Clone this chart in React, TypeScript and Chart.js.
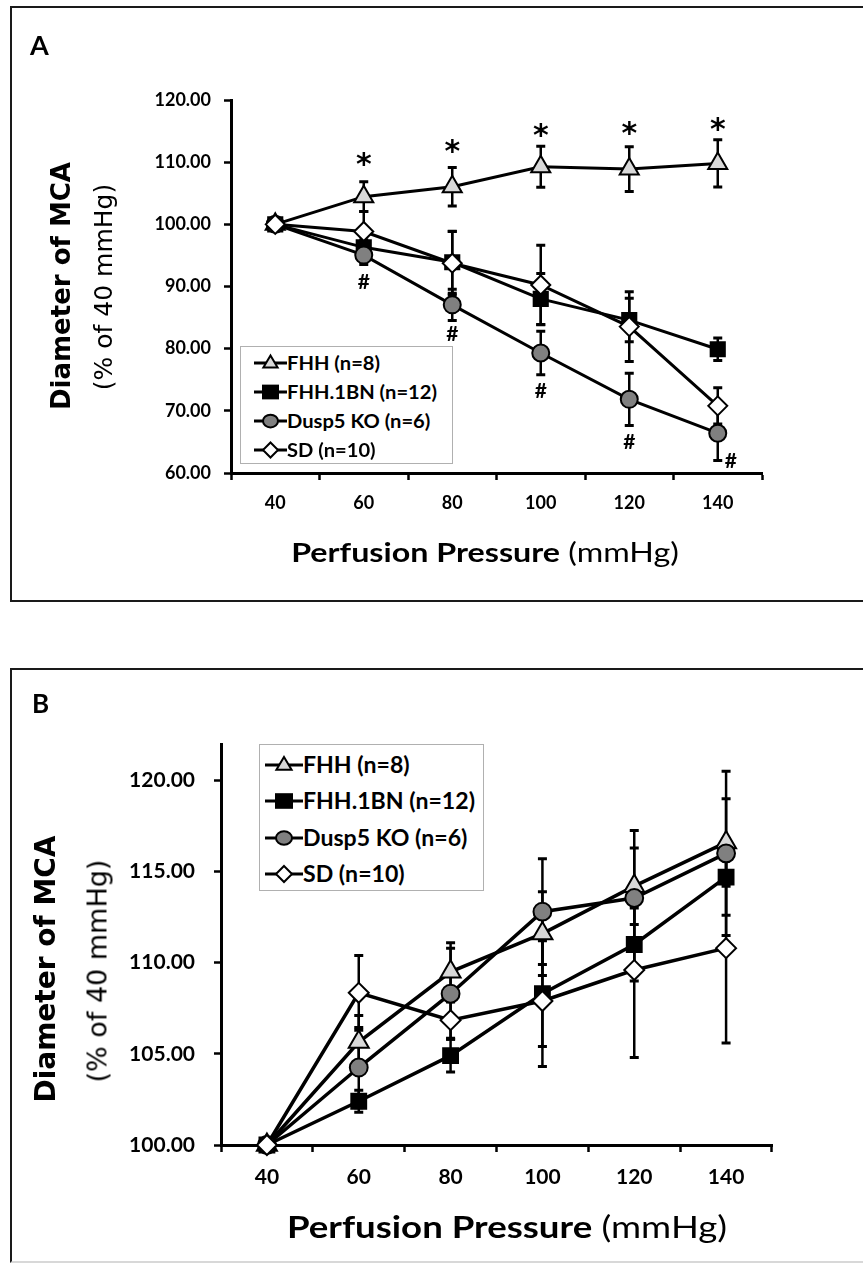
import React, { useEffect, useRef } from 'react';
import { Chart, registerables } from 'chart.js';

Chart.register(...registerables);

// ---------- data ----------
const pressureLabels = ['40', '60', '80', '100', '120', '140'];
const seriesNames = ['FHH (n=8)', 'FHH.1BN (n=12)', 'Dusp5 KO (n=6)', 'SD (n=10)'];

// Panel A (% of 40 mmHg diameter)
const fhhA = [100, 104.45, 106.05, 109.26, 108.9, 109.8];
const fhhAErr = [0, 2.4, 3.1, 3.3, 3.6, 3.8];
const bn1A = [100, 96.3, 93.9, 88.0, 84.6, 79.9];
const bn1AErr = [0, 1.2, 5.0, 4.1, 3.5, 1.8];
const duspA = [100, 95.05, 87.05, 79.3, 71.85, 66.4];
const duspAErr = [0, 1.5, 2.5, 3.5, 4.2, 4.4];
const sdA = [100, 98.85, 93.75, 90.24, 83.55, 70.8];
const sdAErr = [0, 3.2, 5.1, 6.4, 5.6, 2.9];
const starA = [null, 110.85, 112.9, 115.4, 115.8, 116.5];
const hashA = [null, 90.76, 82.4, 73.3, 65.0, 62.0];

// Panel B
const fhhB = [100, 105.65, 109.5, 111.6, 114.2, 116.6];
const fhhBErr = [0, 1.45, 1.6, 2.3, 2.1, 2.4];
const bn1B = [100, 102.4, 104.9, 108.3, 111.0, 114.7];
const bn1BErr = [0, 0.6, 0.9, 2.9, 2.0, 2.1];
const duspB = [100, 104.25, 108.3, 112.8, 113.55, 116.0];
const duspBErr = [0, 2.2, 2.5, 2.9, 3.7, 4.5];
const sdB = [100, 108.35, 106.85, 107.9, 109.6, 110.8];
const sdBErr = [0, 2.05, 1.0, 3.6, 4.8, 5.2];

// ---------- styles ----------
const MARKERS = [
  { style: 'triangle', fill: '#d9d9d9', r: 11 },
  { style: 'rect', fill: '#000000', r: 10 },
  { style: 'circle', fill: '#808080', r: 8.5 },
  { style: 'rectRot', fill: '#ffffff', r: 9.5 },
];

const errorBarPlugin = {
  id: 'errorBars',
  beforeDatasetsDraw(chart: any, _args: any, opts: any) {
    const errs: number[][] = opts.errors || [];
    const ctx = chart.ctx;
    const ys = chart.scales.y;
    ctx.save();
    ctx.strokeStyle = '#000';
    ctx.lineCap = 'butt';
    chart.data.datasets.forEach((ds: any, i: number) => {
      const meta = chart.getDatasetMeta(i);
      const e = errs[i] || [];
      meta.data.forEach((pt: any, j: number) => {
        const err = e[j];
        if (!err) return;
        const v = ds.data[j];
        const x = pt.x;
        const y1 = ys.getPixelForValue(v + err);
        const y2 = ys.getPixelForValue(v - err);
        ctx.lineWidth = opts.width;
        ctx.beginPath();
        ctx.moveTo(x, y1);
        ctx.lineTo(x, y2);
        ctx.stroke();
        ctx.lineWidth = opts.capThickness;
        ctx.beginPath();
        ctx.moveTo(x - opts.capHalf, y1);
        ctx.lineTo(x + opts.capHalf, y1);
        ctx.moveTo(x - opts.capHalf, y2);
        ctx.lineTo(x + opts.capHalf, y2);
        ctx.stroke();
      });
    });
    ctx.restore();
  },
};

const marksPlugin = {
  id: 'sigMarks',
  afterDatasetsDraw(chart: any, _args: any, opts: any) {
    const ctx = chart.ctx;
    const ys = chart.scales.y;
    (opts.items || []).forEach((item: any) => {
      const meta = chart.getDatasetMeta(item.datasetIndex);
      ctx.save();
      ctx.fillStyle = '#000';
      ctx.textAlign = 'center';
      ctx.textBaseline = 'alphabetic';
      ctx.font = `bold ${item.size}px ${item.family}`;
      item.values.forEach((v: number | null, j: number) => {
        if (v === null || v === undefined) return;
        const x = meta.data[j].x + ((item.dx && item.dx[j]) || 0);
        const y = ys.getPixelForValue(v) + item.size * item.baseShift;
        ctx.fillText(item.text, x, y);
      });
      ctx.restore();
    });
  },
};

type PanelSpec = {
  values: number[][];
  errors: number[][];
  min: number;
  max: number;
  step: number;
  canvasH: number;
  padTop: number;
  padRight: number;
  padBottom: number;
  yAxisWidth: number;
  xAxisHeight: number;
  tickSize: number;
  xPad: number;
  yPad: number;
  lineWidth: number;
  markerScale: number;
  marks: any[];
};

function makeConfig(p: PanelSpec): any {
  const gridOpts = {
    drawOnChartArea: false,
    drawTicks: true,
    tickLength: 7,
    tickWidth: 2.5,
    tickColor: '#000',
    color: '#000',
  };
  const tickFont = { family: 'Lato', weight: 'bold', size: p.tickSize };
  return {
    type: 'line',
    data: {
      labels: pressureLabels,
      datasets: p.values.map((vals, i) => ({
        label: seriesNames[i],
        data: vals,
        borderColor: '#000',
        borderWidth: p.lineWidth,
        pointStyle: MARKERS[i].style,
        pointRadius: MARKERS[i].r * p.markerScale,
        pointBackgroundColor: MARKERS[i].fill,
        pointBorderColor: '#000',
        pointBorderWidth: 2,
        tension: 0,
        fill: false,
        clip: false,
        order: 3 - i,
      })),
    },
    options: {
      responsive: false,
      animation: false,
      devicePixelRatio: 1,
      layout: { padding: { left: 0, right: p.padRight, top: p.padTop, bottom: p.padBottom } },
      plugins: {
        legend: { display: false },
        tooltip: { enabled: false },
        errorBars: { errors: p.errors, width: 2.5, capThickness: 3, capHalf: 4.5 },
        sigMarks: { items: p.marks },
      },
      scales: {
        x: {
          type: 'category',
          offset: true,
          grid: { ...gridOpts, offset: true },
          border: { display: true, color: '#000', width: 3 },
          ticks: { color: '#000', font: tickFont, padding: p.xPad, maxRotation: 0, autoSkip: false },
          afterFit: (s: any) => {
            s.height = p.xAxisHeight;
          },
        },
        y: {
          type: 'linear',
          min: p.min,
          max: p.max,
          grid: { ...gridOpts },
          border: { display: true, color: '#000', width: 3 },
          ticks: {
            color: '#000',
            font: tickFont,
            padding: p.yPad,
            stepSize: p.step,
            includeBounds: false,
            callback: (v: any) => Number(v).toFixed(2),
          },
          afterFit: (s: any) => {
            s.width = p.yAxisWidth;
          },
        },
      },
    },
    plugins: [errorBarPlugin, marksPlugin],
  };
}

const panelA: PanelSpec = {
  values: [fhhA, bn1A, duspA, sdA],
  errors: [fhhAErr, bn1AErr, duspAErr, sdAErr],
  min: 60,
  max: 120,
  step: 10,
  canvasH: 610,
  padTop: 100,
  padRight: 101,
  padBottom: 77,
  yAxisWidth: 231,
  xAxisHeight: 60,
  tickSize: 18,
  xPad: 12,
  yPad: 13,
  lineWidth: 3,
  markerScale: 1,
  marks: [
    { datasetIndex: 0, text: '*', values: starA, size: 30, baseShift: 0.56, family: '"DejaVu Sans"' },
    { datasetIndex: 2, text: '#', values: hashA, size: 21, baseShift: 0.36, family: 'Lato', dx: [0, 0, 0, 0, 0, 13] },
  ],
};

const panelB: PanelSpec = {
  values: [fhhB, bn1B, duspB, sdB],
  errors: [fhhBErr, bn1BErr, duspBErr, sdBErr],
  min: 100,
  max: 122,
  step: 5,
  canvasH: 623,
  padTop: 104,
  padRight: 91,
  padBottom: 48,
  yAxisWidth: 221,
  xAxisHeight: 70,
  tickSize: 21,
  xPad: 13,
  yPad: 19,
  lineWidth: 3.5,
  markerScale: 1.05,
  marks: [],
};

function PanelChart({ top, spec }: { top: number; spec: PanelSpec }) {
  const ref = useRef<HTMLCanvasElement | null>(null);
  useEffect(() => {
    if (!ref.current) return;
    const chart = new Chart(ref.current, makeConfig(spec));
    return () => chart.destroy();
  }, [spec]);
  return (
    <canvas
      ref={ref}
      width={863}
      height={spec.canvasH}
      style={{ position: 'absolute', left: 0, top, width: 863, height: spec.canvasH, display: 'block' }}
    />
  );
}

function LegendMarker({ i, w, r }: { i: number; w: number; r: number }) {
  const h = 22;
  const cx = w / 2;
  const cy = h / 2;
  const m = MARKERS[i];
  let shape: React.ReactNode = null;
  if (m.style === 'triangle') {
    shape = (
      <polygon
        points={`${cx},${cy - r} ${cx + r * 0.95},${cy + r * 0.6} ${cx - r * 0.95},${cy + r * 0.6}`}
        fill={m.fill}
        stroke="#000"
        strokeWidth={2}
      />
    );
  } else if (m.style === 'rect') {
    shape = <rect x={cx - r} y={cy - r * 0.85} width={2 * r} height={1.7 * r} fill={m.fill} stroke="#000" strokeWidth={2} />;
  } else if (m.style === 'circle') {
    shape = <ellipse cx={cx} cy={cy} rx={r} ry={r * 0.85} fill={m.fill} stroke="#000" strokeWidth={2} />;
  } else {
    shape = (
      <polygon
        points={`${cx},${cy - r} ${cx + r},${cy} ${cx},${cy + r} ${cx - r},${cy}`}
        fill={m.fill}
        stroke="#000"
        strokeWidth={2}
      />
    );
  }
  return (
    <svg width={w} height={h} style={{ display: 'block' }}>
      <line x1={0} y1={cy} x2={w} y2={cy} stroke="#000" strokeWidth={3} />
      {shape}
    </svg>
  );
}

function Legend(props: {
  left: number;
  top: number;
  width: number;
  height: number;
  rows: number[];
  markerLeft: number;
  markerW: number;
  markerR: number;
  textLeft: number;
  fontSize: number;
  textScale: number;
}) {
  return (
    <div
      style={{
        position: 'absolute',
        left: props.left,
        top: props.top,
        width: props.width,
        height: props.height,
        border: '1.5px solid #b0b0b0',
        boxSizing: 'border-box',
        background: '#fff',
      }}
    >
      {seriesNames.map((name, i) => (
        <div key={name}>
          <div style={{ position: 'absolute', left: props.markerLeft, top: props.rows[i] - 11 }}>
            <LegendMarker i={i} w={props.markerW} r={props.markerR} />
          </div>
          <div
            style={{
              position: 'absolute',
              left: props.textLeft,
              top: props.rows[i] - 15,
              height: 30,
              lineHeight: '30px',
              fontFamily: 'Lato',
              fontWeight: 'bold',
              fontSize: props.fontSize,
              whiteSpace: 'nowrap',
              color: '#000',
              transform: `scaleX(${props.textScale})`,
              transformOrigin: 'left center',
            }}
          >
            {name}
          </div>
        </div>
      ))}
    </div>
  );
}

function XTitle({ cx, top, size, scale }: { cx: number; top: number; size: number; scale: number }) {
  return (
    <div
      style={{
        position: 'absolute',
        left: cx,
        top,
        transform: `translateX(-50%) scaleX(${scale})`,
        whiteSpace: 'nowrap',
        fontFamily: 'Lato',
        fontSize: size,
        lineHeight: 1,
        color: '#000',
      }}
    >
      <span style={{ fontWeight: 'bold' }}>Perfusion Pressure</span>
      <span style={{ fontWeight: 'normal' }}> (mmHg)</span>
    </div>
  );
}

function YTitle({ cx, cy, text, bold, size }: { cx: number; cy: number; text: string; bold: boolean; size: number }) {
  return (
    <div
      style={{
        position: 'absolute',
        left: cx,
        top: cy,
        transform: 'translate(-50%, -50%) rotate(-90deg)',
        whiteSpace: 'nowrap',
        fontFamily: '"DejaVu Sans"',
        fontWeight: bold ? 'bold' : 'normal',
        fontSize: size,
        lineHeight: 1,
        color: '#000',
      }}
    >
      {text}
    </div>
  );
}

export default function App() {
  return (
    <div
      style={{
        position: 'fixed',
        left: 0,
        top: 0,
        width: 863,
        height: 1263,
        overflow: 'hidden',
        background: '#fff',
      }}
    >
      {/* panel frames */}
      <div
        style={{
          position: 'absolute',
          left: 10,
          top: 6,
          width: 900,
          height: 596,
          border: '2.5px solid #1a1a1a',
          boxSizing: 'border-box',
        }}
      />
      <div
        style={{
          position: 'absolute',
          left: 10,
          top: 668,
          width: 900,
          height: 595,
          borderTop: '2.5px solid #1a1a1a',
          borderLeft: '2.5px solid #1a1a1a',
          borderBottom: '2px solid #d8d8d8',
          boxSizing: 'border-box',
        }}
      />

      <PanelChart top={0} spec={panelA} />
      <PanelChart top={640} spec={panelB} />

      {/* panel letters */}
      <div style={{ position: 'absolute', left: 30, top: 31, fontFamily: 'Lato', fontWeight: 'bold', fontSize: 27, lineHeight: 1 }}>A</div>
      <div style={{ position: 'absolute', left: 32, top: 690, fontFamily: 'Lato', fontWeight: 'bold', fontSize: 26, lineHeight: 1 }}>B</div>

      {/* axis titles A */}
      <YTitle cx={61} cy={286} text="Diameter of MCA" bold size={26} />
      <YTitle cx={103} cy={287} text="(% of 40 mmHg)" bold={false} size={25} />
      <XTitle cx={485} top={539} size={26} scale={1.24} />

      {/* axis titles B */}
      <YTitle cx={46} cy={969} text="Diameter of MCA" bold size={28} />
      <YTitle cx={97} cy={971} text="(% of 40 mmHg)" bold={false} size={27} />
      <XTitle cx={507} top={1211} size={30} scale={1.22} />

      <Legend
        left={240}
        top={346}
        width={213}
        height={118}
        rows={[16, 45, 74, 103]}
        markerLeft={13}
        markerW={33}
        markerR={7.5}
        textLeft={46}
        fontSize={19}
        textScale={1.06}
      />
      <Legend
        left={259}
        top={744}
        width={225}
        height={147}
        rows={[20, 56, 93, 129]}
        markerLeft={5}
        markerW={38}
        markerR={8}
        textLeft={43}
        fontSize={22}
        textScale={1.05}
      />
    </div>
  );
}
